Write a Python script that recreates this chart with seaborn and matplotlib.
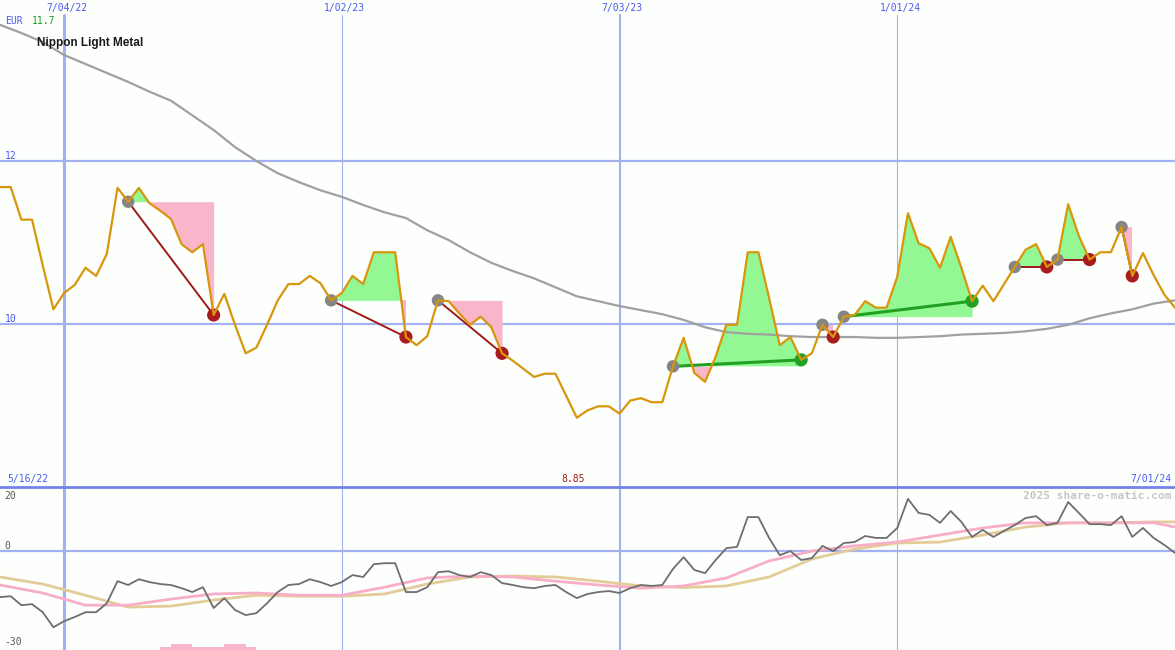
import numpy as np
import pandas as pd
import matplotlib
matplotlib.use('Agg')
import matplotlib.pyplot as plt
import matplotlib.dates as mdates
import seaborn as sns

# weekly closes (EUR), first point 5/23/22, last 7/01/24
dates = pd.date_range('2022-05-23', periods=111, freq='7D')
price = [11.68, 11.68, 11.28, 11.28, 10.72, 10.18, 10.38, 10.48, 10.69, 10.59,
         10.86, 11.67, 11.50, 11.67, 11.48, 11.39, 11.29, 10.98, 10.88, 10.98,
         10.11, 10.37, 9.99, 9.64, 9.71, 9.99, 10.29, 10.49, 10.49, 10.59,
         10.50, 10.29, 10.38, 10.59, 10.49, 10.88, 10.88, 10.88, 9.84, 9.74,
         9.85, 10.29, 10.28, 10.13, 9.99, 10.09, 9.96, 9.64, 9.55, 9.45,
         9.35, 9.39, 9.39, 9.12, 8.85, 8.94, 8.99, 8.99, 8.90, 9.06,
         9.09, 9.04, 9.04, 9.48, 9.83, 9.40, 9.29, 9.60, 9.99, 9.99,
         10.88, 10.88, 10.32, 9.74, 9.84, 9.56, 9.64, 9.99, 9.84, 10.09,
         10.11, 10.28, 10.20, 10.20, 10.58, 11.36, 10.99, 10.93, 10.69, 11.07,
         10.69, 10.28, 10.47, 10.28, 10.49, 10.70, 10.91, 10.98, 10.70, 10.79,
         11.47, 11.08, 10.79, 10.88, 10.88, 11.19, 10.59, 10.87, 10.60, 10.36,
         10.20]

# long moving average, read every 2nd week
ma_idx = list(range(0, 111, 2))
ma_long = [13.67, 13.57, 13.46, 13.30, 13.19, 13.08, 12.97, 12.85, 12.74, 12.56,
           12.38, 12.17, 12.00, 11.85, 11.74, 11.64, 11.56, 11.46, 11.37, 11.30,
           11.15, 11.03, 10.88, 10.75, 10.65, 10.56, 10.45, 10.34, 10.28, 10.22,
           10.17, 10.12, 10.05, 9.96, 9.90, 9.88, 9.87, 9.85, 9.84, 9.84,
           9.84, 9.83, 9.83, 9.84, 9.85, 9.87, 9.88, 9.89, 9.91, 9.94,
           9.99, 10.07, 10.13, 10.18, 10.25, 10.29]

# lower panel: oscillator (weekly) and its two averages (read every 4th week)
osc = [-14.4, -14.1, -16.9, -16.6, -19.1, -23.8, -21.9, -20.6, -19.1, -19.1,
       -16.3, -9.4, -10.6, -8.8, -9.7, -10.3, -10.6, -11.6, -12.8, -11.3,
       -17.8, -14.7, -18.4, -20.0, -19.4, -16.3, -12.8, -10.6, -10.3, -8.8,
       -9.7, -10.9, -9.7, -7.5, -8.1, -4.1, -3.8, -3.8, -12.8, -12.8,
       -11.3, -6.6, -6.3, -7.5, -8.1, -6.6, -7.5, -10.0, -10.6, -11.3,
       -11.6, -10.9, -10.6, -12.8, -14.7, -13.4, -12.8, -12.5, -13.1, -11.6,
       -10.6, -10.9, -10.6, -5.6, -1.9, -5.9, -6.9, -2.8, 0.9, 1.3,
       10.6, 10.6, 4.1, -1.3, 0.0, -2.8, -2.2, 1.6, 0.0, 2.5,
       2.8, 4.7, 4.1, 4.1, 7.2, 16.3, 11.9, 11.3, 8.8, 12.5,
       9.1, 4.4, 6.6, 4.4, 6.3, 8.1, 10.3, 10.9, 8.1, 8.8,
       15.3, 11.9, 8.4, 8.4, 8.1, 10.9, 4.4, 7.2, 4.1, 1.9,
       -0.6]
avg_idx = list(range(0, 109, 4)) + [110]
osc_fast = [-10.6, -13.1, -16.9, -16.9, -15.0, -13.4, -13.1, -13.8, -13.8, -11.3,
            -8.4, -7.8, -8.1, -9.4, -10.6, -11.6, -10.9, -8.4, -3.1, 0.0,
            1.6, 2.8, 5.0, 7.2, 8.8, 8.8, 8.8, 8.8, 7.5]
osc_slow = [-8.1, -10.3, -13.8, -17.5, -17.2, -15.3, -13.8, -14.1, -14.1, -13.4,
            -10.3, -8.1, -7.8, -8.1, -9.4, -10.9, -11.4, -10.9, -8.1, -2.5,
            0.6, 2.5, 2.8, 5.0, 7.5, 8.8, 8.8, 9.1, 9.1]
sig_idx = list(range(15, 24))
sig_top = [-30.0, -29.1, -29.1, -30.0, -30.0, -30.0, -29.1, -29.1, -30.0]

# trades as (entry week, exit week)
trades = [(12, 20), (31, 38), (41, 47), (63, 75), (77, 78),
          (79, 91), (95, 98), (99, 102), (105, 106)]

grid_dates = pd.to_datetime(['2022-07-04', '2023-01-02', '2023-07-03', '2024-01-01'])
grid_labels = ['7/04/22', '1/02/23', '7/03/23', '1/01/24']
start_label, end_label = '5/16/22', '7/01/24'
grid_lw = [2.2, 0.8, 1.5, 0.8]

bg = '#FDFFFD'
gridc = '#A3B0F2'
blue = '#4B5BEF'
p = np.array(price)

sns.set_style('white')
plt.rcParams['font.family'] = ['DejaVu Sans Mono']

fig = plt.figure(figsize=(11.75, 6.5), dpi=100)
fig.patch.set_facecolor(bg)
ax1 = fig.add_axes([0, 163 / 650, 1, 487 / 650])
ax2 = fig.add_axes([0, 0, 1, 163 / 650])

for ax in (ax1, ax2):
    ax.set_facecolor(bg)
    for s in ax.spines.values():
        s.set_visible(False)
    ax.set_xlim(dates[0], dates[-1])

ax1.set_ylim(8.0, 13.975)
ax2.set_ylim(-30.9, 20)

# grid
for d, w in zip(grid_dates, grid_lw):
    ax1.axvline(d, ymax=1 - 15 / 487, color=gridc, lw=w, zorder=0)
    ax2.axvline(d, color=gridc, lw=w, zorder=0)
for lvl in (12, 10):
    ax1.axhline(lvl, color=gridc, lw=1.6, zorder=0)
ax2.axhline(0, color=gridc, lw=1.6, zorder=0)
ax2.axhline(20, color='#7383EA', lw=2.0, zorder=6, clip_on=False)

# trades: shaded profit / loss, link line, dots
entries, exits = [], []
for a, b in trades:
    xs = dates[a:b + 1]
    ys = p[a:b + 1]
    lvl = p[a]
    ax1.fill_between(xs, lvl, ys, where=ys >= lvl, interpolate=True,
                     color='#93F893', lw=0, zorder=1)
    ax1.fill_between(xs, lvl, ys, where=ys < lvl, interpolate=True,
                     color='#F9B5CA', lw=0, zorder=1)
    win = p[b] > lvl
    ax1.plot([dates[a], dates[b]], [lvl, p[b]],
             color='#22A022' if win else '#A01A1A', lw=2.2 if win else 1.4, zorder=3)
    entries.append((dates[a], lvl))
    exits.append((dates[b], p[b], 'win' if win else 'loss'))

ent = pd.DataFrame(entries, columns=['date', 'price'])
ext = pd.DataFrame(exits, columns=['date', 'price', 'res'])
sns.scatterplot(data=ent, x='date', y='price', color='#858585', s=80,
                edgecolor='none', ax=ax1, zorder=4)
sns.scatterplot(data=ext, x='date', y='price', hue='res',
                palette={'win': '#22A022', 'loss': '#A81C1C'}, s=90,
                edgecolor='none', legend=False, ax=ax1, zorder=4)

# lines
sns.lineplot(x=dates[ma_idx], y=ma_long, color='#A0A0A0', lw=1.6, ax=ax1, zorder=2)
sns.lineplot(x=dates, y=price, color='#D8960C', lw=1.6, ax=ax1, zorder=5)

ax2.bar(dates[sig_idx], np.array(sig_top) + 30.9, bottom=-30.9, width=7,
        align='edge', color='#F9B5CA', lw=0, zorder=1)
sns.lineplot(x=dates[avg_idx], y=osc_slow, color='#E3CC98', lw=2.0, ax=ax2, zorder=2)
sns.lineplot(x=dates[avg_idx], y=osc_fast, color='#F7AEC6', lw=2.0, ax=ax2, zorder=2)
sns.lineplot(x=dates, y=osc, color='#6E6E6E', lw=1.3, ax=ax2, zorder=3)

for ax in (ax1, ax2):
    ax.set(xlabel='', ylabel='', xticks=[], yticks=[])

# labels
xt = ax1.get_xaxis_transform()
for d, lab in zip(grid_dates, grid_labels):
    ax1.annotate(lab, (mdates.date2num(d), 1 - 8 / 487), xycoords=xt, xytext=(2, 0),
                 textcoords='offset points', ha='center', va='center',
                 fontsize=7, color=blue)

fig.text(5 / 1175, 1 - 21 / 650, 'EUR', fontsize=7, color=blue, va='center')
fig.text(32 / 1175, 1 - 21 / 650, '11.7', fontsize=7, color='#1E9A1E', va='center')
fig.text(37 / 1175, 1 - 43 / 650, 'Nippon Light Metal', fontsize=8.5,
         fontweight='bold', family='Liberation Sans', color='#1A1A1A', va='center')
yt = ax1.get_yaxis_transform()
ax1.text(0.004, 12, '12', fontsize=7, color=blue, va='bottom', transform=yt)
ax1.text(0.004, 10, '10', fontsize=7, color=blue, va='bottom', transform=yt)

imin = int(np.argmin(p))
ax1.text(0.006, 8 / 487, start_label, fontsize=7, color=blue, va='center',
         transform=ax1.transAxes)
ax1.annotate(f'{p[imin]:.2f}', (mdates.date2num(dates[imin]), 8 / 487), xycoords=xt,
             xytext=(-3, 0), textcoords='offset points', ha='center', va='center',
             fontsize=7, color='#A01A1A')
ax1.text(0.997, 8 / 487, end_label, fontsize=7, color=blue, va='center', ha='right',
         transform=ax1.transAxes)

ax2.text(0.004, (650 - 496) / 163, '20', fontsize=7, color='#555555', va='center',
         transform=ax2.transAxes)
ax2.text(0.004, 0, '0', fontsize=7, color='#555555', va='bottom',
         transform=ax2.get_yaxis_transform())
ax2.text(0.004, (650 - 642) / 163, '-30', fontsize=7, color='#555555', va='center',
         transform=ax2.transAxes)
ax2.text(0.997, (650 - 496) / 163, '2025 share-o-matic.com', fontsize=8,
         fontweight='bold', color='#C6C6C6', ha='right', va='center',
         transform=ax2.transAxes)

fig.savefig('out.png', dpi=100, facecolor=bg)
